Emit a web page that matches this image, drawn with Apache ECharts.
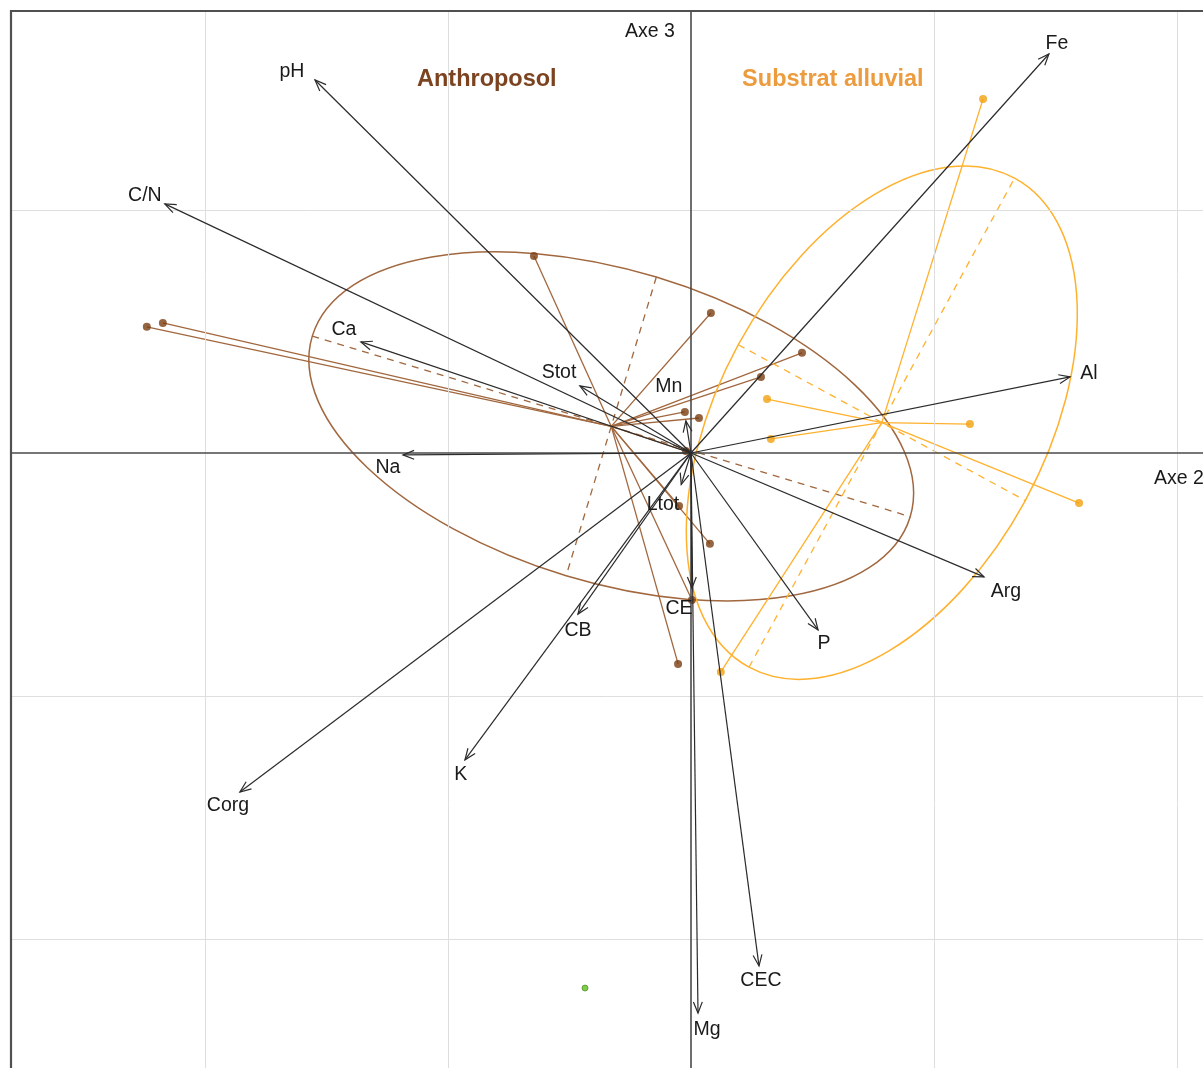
<!DOCTYPE html>
<html><head><meta charset="utf-8">
<script src="https://cdn.jsdelivr.net/npm/echarts@6/dist/echarts.min.js"></script>
<style>html,body{margin:0;padding:0;background:#fff;} #c{width:1203px;height:1068px;}</style>
</head><body><div id="c"></div>
<script>
// ---- data (units of the factorial plane; 1 grid cell = 1 unit) ----
const gridXTicks = [-2, -1, 1, 2];
const gridYTicks = [-2, -1, 1];

const arrowNames = ['pH','C/N','Ca','Stot','Mn','Na','Ltot','CB','K','Corg','CE','P','Arg','Al','Fe','CEC','Mg'];
const arrowX = [-1.547,-2.165,-1.358,-0.457,-0.021,-1.185,-0.040,-0.465,-0.930,-1.856,0.004,0.523,1.206,1.560,1.473,0.280,0.029];
const arrowY = [1.535,1.025,0.457,0.276,0.132,-0.008,-0.130,-0.663,-1.263,-1.395,-0.556,-0.728,-0.510,0.313,1.642,-2.111,-2.305];
const labelX = [-1.642,-2.247,-1.428,-0.543,-0.091,-1.247,-0.115,-0.465,-0.947,-1.905,-0.049,0.547,1.296,1.638,1.506,0.288,0.066];
const labelY = [1.576,1.066,0.514,0.337,0.280,-0.053,-0.206,-0.724,-1.317,-1.444,-0.634,-0.778,-0.564,0.333,1.691,-2.165,-2.366];

const anthX = [-0.646,-2.239,-2.173,0.082,0.457,0.288,-0.025,0.033,-0.021,-0.049,0.078,0.004,-0.053];
const anthY = [0.811,0.519,0.535,0.576,0.412,0.313,0.169,0.144,0.008,-0.218,-0.374,-0.605,-0.868];
const alluX = [1.202,0.313,0.329,1.148,1.597,0.123];
const alluY = [1.457,0.222,0.058,0.119,-0.206,-0.901];
const otherX = [-0.436];
const otherY = [-2.202];

// ellipse parameters: semi-axes and angle (deg)
const anthEll = {a: 1.285, b: 0.642, angle: -16.8};
const alluEll = {a: 1.145, b: 0.672, angle: 61.5};

const groupNames = ['Anthroposol', 'Substrat alluvial'];
const groupLabelX = [-0.840, 0.584];
const groupLabelY = [1.547, 1.547];

const axisTitles = ['Axe 2', 'Axe 3'];

// ---- styles ----
const BROWN_LINE = '#a1673e', BROWN_PT = '#7a3d12', BROWN_TXT = '#7c4320';
const ORANGE_LINE = '#ffb12e', ORANGE_PT = '#f2a10f', ORANGE_TXT = '#ec9c3e';
const FONT = "'Liberation Sans', Arial, Helvetica, sans-serif";
const TXT_DY = 2;

function mean(a){ return a.reduce((s,v)=>s+v,0)/a.length; }
const groups = [
  {xs: anthX, ys: anthY, ell: anthEll, line: BROWN_LINE},
  {xs: alluX, ys: alluY, ell: alluEll, line: ORANGE_LINE}
].map(g => Object.assign(g, {cx: mean(g.xs), cy: mean(g.ys)}));

const chart = echarts.init(document.getElementById('c'));
// visible window of the plane (the frame continues beyond the picture on the right and bottom)
const XMIN = -2.802, XMAX = 2.107, YMIN = -2.531, YMAX = 1.823;

chart.setOption({
  animation: false,
  backgroundColor: '#ffffff',
  grid: {left: 10, top: 10, right: 0, bottom: 0, show: false},
  xAxis: {type: 'value', min: XMIN, max: XMAX, show: false},
  yAxis: {type: 'value', min: YMIN, max: YMAX, show: false},
  series: [
    { // grid lines
      type: 'scatter', data: [[0,0]], symbolSize: 0, silent: true, z: 1,
      markLine: {silent: true, symbol: ['none','none'], label: {show: false},
        lineStyle: {color: '#dedede', width: 1, type: 'solid'},
        data: gridXTicks.map(v => ({xAxis: v})).concat(gridYTicks.map(v => ({yAxis: v})))}
    },
    { // zero axes
      type: 'scatter', data: [[0,0]], symbolSize: 0, silent: true, z: 2,
      markLine: {silent: true, symbol: ['none','none'], label: {show: false},
        lineStyle: {color: '#4a4a4a', width: 1.6, type: 'solid'},
        data: [{xAxis: 0}, {yAxis: 0}]}
    },
    { // frame (left and top edges)
      type: 'scatter', data: [[0,0]], symbolSize: 0, silent: true, z: 2,
      markLine: {silent: true, symbol: ['none','none'], label: {show: false},
        lineStyle: {color: '#505050', width: 2.2, type: 'solid'},
        data: [{xAxis: XMIN}, {yAxis: YMAX}]}
    },
    { // ellipses, axes and stars
      type: 'custom', z: 3, silent: true,
      data: groups.map(g => [g.cx, g.cy]),
      renderItem(params, api) {
        const g = groups[params.dataIndex];
        const c = api.coord([g.cx, g.cy]);
        const rx = api.size([g.ell.a, 0])[0];
        const ry = api.size([0, g.ell.b])[1];
        const children = [];
        g.xs.forEach((x, i) => {
          const p = api.coord([x, g.ys[i]]);
          children.push({type: 'line', shape: {x1: c[0], y1: c[1], x2: p[0], y2: p[1]},
            style: {stroke: g.line, lineWidth: 1.3}});
        });
        children.push({type: 'group', x: c[0], y: c[1], rotation: g.ell.angle * Math.PI / 180, children: [
          {type: 'ellipse', shape: {cx: 0, cy: 0, rx: rx, ry: ry}, style: {fill: 'none', stroke: g.line, lineWidth: 1.5}},
          {type: 'line', shape: {x1: -rx, y1: 0, x2: rx, y2: 0}, style: {stroke: g.line, lineWidth: 1.3, lineDash: [7, 6]}},
          {type: 'line', shape: {x1: 0, y1: -ry, x2: 0, y2: ry}, style: {stroke: g.line, lineWidth: 1.3, lineDash: [7, 6]}}
        ]});
        return {type: 'group', children: children};
      }
    },
    {type: 'scatter', z: 4, symbolSize: 8, itemStyle: {color: BROWN_PT}, data: anthX.map((x,i)=>[x, anthY[i]])},
    {type: 'scatter', z: 4, symbolSize: 8, itemStyle: {color: ORANGE_PT}, data: alluX.map((x,i)=>[x, alluY[i]])},
    {type: 'scatter', z: 4, symbolSize: 6, itemStyle: {color: '#5cbf1f', borderColor: '#3f7f10', borderWidth: 0.8}, data: otherX.map((x,i)=>[x, otherY[i]])},
    { // arrows
      type: 'custom', z: 5, silent: true,
      data: arrowX.map((x,i)=>[x, arrowY[i]]),
      renderItem(params, api) {
        const o = api.coord([0, 0]);
        const t = api.coord([api.value(0), api.value(1)]);
        const th = Math.atan2(t[1] - o[1], t[0] - o[0]);
        const L = 12, phi = 0.38;
        const p1 = [t[0] - L * Math.cos(th - phi), t[1] - L * Math.sin(th - phi)];
        const p2 = [t[0] - L * Math.cos(th + phi), t[1] - L * Math.sin(th + phi)];
        return {type: 'group', children: [
          {type: 'line', shape: {x1: o[0], y1: o[1], x2: t[0], y2: t[1]}, style: {stroke: '#2b2b2b', lineWidth: 1.2}},
          {type: 'polyline', shape: {points: [p1, t, p2]}, style: {stroke: '#2b2b2b', lineWidth: 1.2, fill: 'none'}}
        ]};
      }
    },
    { // arrow labels
      type: 'custom', z: 6, silent: true,
      data: labelX.map((x,i)=>[x, labelY[i]]),
      renderItem(params, api) {
        const p = api.coord([api.value(0), api.value(1)]);
        return {type: 'text', x: p[0], y: p[1] + TXT_DY, style: {text: arrowNames[params.dataIndex],
          align: 'center', verticalAlign: 'middle', fill: '#1a1a1a', font: '19.5px ' + FONT}};
      }
    },
    { // group titles
      type: 'custom', z: 6, silent: true,
      data: groupLabelX.map((x,i)=>[x, groupLabelY[i]]),
      renderItem(params, api) {
        const p = api.coord([api.value(0), api.value(1)]);
        return {type: 'text', x: p[0], y: p[1] + TXT_DY, style: {text: groupNames[params.dataIndex],
          align: 'center', verticalAlign: 'middle', fill: params.dataIndex === 0 ? BROWN_TXT : ORANGE_TXT,
          font: 'bold 23.5px ' + FONT}};
      }
    },
    { // axis titles
      type: 'custom', z: 6, silent: true,
      data: [[1.905, -0.099], [-0.066, 1.741]],
      renderItem(params, api) {
        const p = api.coord([api.value(0), api.value(1)]);
        return {type: 'text', x: p[0], y: p[1] + TXT_DY, style: {text: axisTitles[params.dataIndex],
          align: params.dataIndex === 0 ? 'left' : 'right', verticalAlign: 'middle', fill: '#1a1a1a', font: '19.5px ' + FONT}};
      }
    }
  ]
});
</script>
</body></html>
